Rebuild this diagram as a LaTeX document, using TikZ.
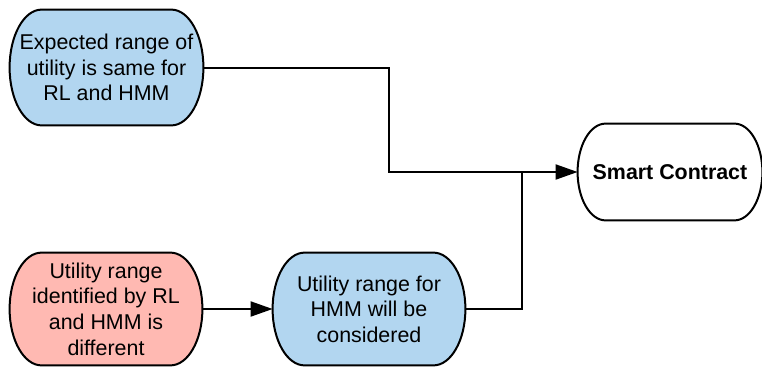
\documentclass[tikz,border=0pt]{standalone}
\usepackage{fontspec}
\setmainfont{Liberation Sans}
\usetikzlibrary{arrows.meta,calc,backgrounds}
\definecolor{boxblue}{RGB}{178,214,240}
\definecolor{boxred}{RGB}{255,185,178}
\tikzset{
  termbox/.style={align=center, inner sep=0pt, font=\fontsize{10.7}{12.8}\selectfont},
  flow/.style={line width=1pt, -{Triangle[length=11pt,width=7.5pt]}},
}
% outline with half-elliptic ends round a node: #1 node, #2 fill, #3 depth of the ends
\newcommand\termshape[3]{%
  \draw[fill=#2, line width=1pt] let \p1=(#1.north west), \p2=(#1.south east) in
    ({\x1+#3},\y1) -- ({\x2-#3},\y1)
    arc[start angle=90, end angle=-90, x radius=#3, y radius={(\y1-\y2)/2}]
    -- ({\x1+#3},\y2)
    arc[start angle=270, end angle=90, x radius=#3, y radius={(\y1-\y2)/2}]
    -- cycle ;}

\begin{document}
\begin{tikzpicture}[x=0.5pt,y=0.5pt]
        \useasboundingbox (0,0) rectangle (762,366) ;
        \node[termbox, minimum width=96.5pt, minimum height=57.5pt] (same) at (106.5,298.5)
        {Expected range of\\utility is same for\\RL and HMM} ;
        \node[termbox, minimum width=96pt, minimum height=56pt] (differ) at (106,57)
        {Utility range\\identified by RL\\and HMM is\\different} ;
        \node[termbox, minimum width=96pt, minimum height=56pt] (hmm) at (369,57)
        {Utility range for\\HMM will be\\considered} ;
        \node[termbox, minimum width=92pt, minimum height=48pt] (smart) at (670,194)
        {\bfseries Smart Contract} ;
        \begin{scope}[on background layer]
          \termshape{same}{boxblue}{16pt}
          \termshape{differ}{boxred}{16pt}
          \termshape{hmm}{boxblue}{16pt}
          \termshape{smart}{white}{14pt}
        \end{scope}
        \coordinate (knee) at (389,194) ;
        \coordinate (join) at (522,194) ;
        \draw[flow] (same.east) -| (knee) -- (smart.west) ;
        \draw[flow] (differ.east) -- (hmm.west) ;
        \draw[line width=1pt] (hmm.east) -| (join) ;
      \end{tikzpicture}
\end{document}
